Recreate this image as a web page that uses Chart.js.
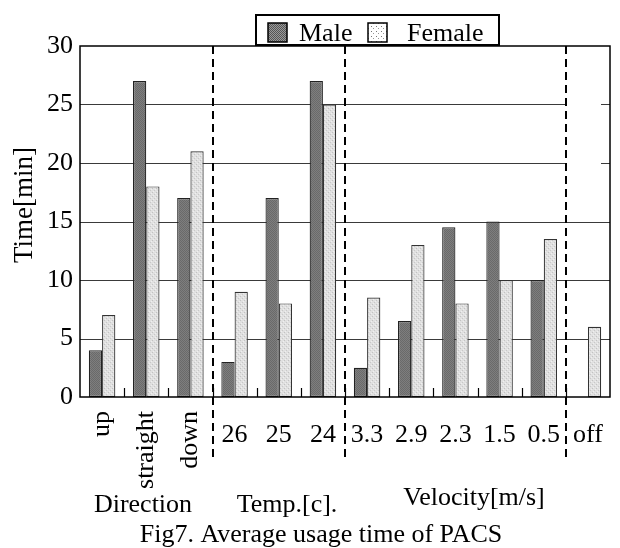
<!DOCTYPE html>
<html><head><meta charset="utf-8">
<script src="https://cdn.jsdelivr.net/npm/chart.js@4/dist/chart.umd.min.js"></script>
<style>html,body{margin:0;padding:0;background:#fff;}#wrap{width:620px;height:548px;position:relative;background:#fff}</style>
</head><body><div id="wrap"><canvas id="c" width="620" height="548"></canvas></div>
<script>
// ---- data ----
const categories = ['up','straight','down','26','25','24','3.3','2.9','2.3','1.5','0.5','off'];
const maleValues = [4, 27, 17, 3, 17, 27, 2.5, 6.5, 14.5, 15, 10, 0];
const femaleValues = [7, 18, 21, 9, 8, 25, 8.5, 13, 8, 10, 13.5, 6];
const seriesNames = ['Male', 'Female'];
const yTicks = [0, 5, 10, 15, 20, 25, 30];
const rotatedLabels = ['up', 'straight', 'down'];
const separatorsAfter = [2, 5, 10];
const groupNames = ['Direction', 'Temp.[c].', 'Velocity[m/s]'];
const yTitle = 'Time[min]';
const caption = 'Fig7. Average usage time of PACS';

const FONT = "'Liberation Serif', 'DejaVu Serif', serif";

function makePattern(w, h, base, dots) {
  const c = document.createElement('canvas');
  c.width = w; c.height = h;
  const g = c.getContext('2d');
  g.fillStyle = base; g.fillRect(0, 0, w, h);
  dots.forEach(d => { g.fillStyle = d[2]; g.fillRect(d[0], d[1], 1, 1); });
  return g.createPattern(c, 'repeat');
}
const ctx0 = document.getElementById('c').getContext('2d');
const malePattern = makePattern(2, 2, '#7e7e7e', [[0,0,'#6a6a6a'],[1,1,'#6a6a6a']]);
const femalePattern = makePattern(4, 4, '#e0e0e0', [[0,0,'#c2c2c2'],[2,2,'#c8c8c8'],[1,3,'#efefef'],[3,1,'#efefef']]);
const maleSwatch = makePattern(2, 2, '#9a9a9a', [[0,0,'#555'],[1,1,'#555']]);
const femaleSwatch = makePattern(5, 5, '#ffffff', [[1,1,'#777'],[3,3,'#999']]);

const decor = {
  id: 'decor',
  beforeDatasetsDraw(chart) {
    const {ctx, chartArea: a, scales: {x, y}} = chart;
    ctx.save();
    // grid lines
    ctx.strokeStyle = '#3a3a3a'; ctx.lineWidth = 1;
    const xGapStart = x.getPixelForValue(separatorsAfter[2] + 0.5);
    yTicks.forEach(v => {
      if (v === yTicks[0] || v === yTicks[yTicks.length - 1]) return;
      const py = Math.round(y.getPixelForValue(v)) + 0.5;
      ctx.beginPath();
      if (v >= 20) {
        ctx.moveTo(a.left, py); ctx.lineTo(xGapStart, py);
        ctx.moveTo(a.right - 9, py); ctx.lineTo(a.right, py);
      } else {
        ctx.moveTo(a.left, py); ctx.lineTo(a.right, py);
      }
      ctx.stroke();
    });
    // bottom ticks at category boundaries
    ctx.strokeStyle = '#000'; ctx.lineWidth = 1.2;
    for (let i = 0; i < categories.length - 1; i++) {
      const px = Math.round(x.getPixelForValue(i + 0.5)) + 0.5;
      ctx.beginPath(); ctx.moveTo(px, a.bottom); ctx.lineTo(px, a.bottom - 9); ctx.stroke();
    }
    ctx.restore();
  },
  afterDatasetsDraw(chart) {
    const {ctx, chartArea: a, scales: {x, y}} = chart;
    ctx.save();
    // dashed separators
    ctx.strokeStyle = '#000'; ctx.lineWidth = 2; ctx.setLineDash([8, 5]);
    separatorsAfter.forEach(i => {
      const px = Math.round(x.getPixelForValue(i + 0.5));
      ctx.beginPath(); ctx.moveTo(px, a.top); ctx.lineTo(px, 457); ctx.stroke();
    });
    ctx.setLineDash([]);
    // plot border
    ctx.lineWidth = 1.5; ctx.strokeStyle = '#000';
    ctx.strokeRect(a.left, a.top, a.right - a.left, a.bottom - a.top);
    // x labels
    ctx.fillStyle = '#000';
    ctx.font = '26px ' + FONT;
    categories.forEach((lab, i) => {
      const px = x.getPixelForValue(i);
      if (rotatedLabels.includes(lab)) {
        ctx.save();
        ctx.translate(px, 411);
        ctx.rotate(-Math.PI / 2);
        ctx.textAlign = 'right'; ctx.textBaseline = 'middle';
        ctx.fillText(lab, 0, 0);
        ctx.restore();
      } else {
        ctx.textAlign = 'center'; ctx.textBaseline = 'middle';
        ctx.fillText(lab, px, 435);
      }
    });
    // group labels
    ctx.textAlign = 'center'; ctx.textBaseline = 'alphabetic';
    ctx.fillText(groupNames[0], 143, 512);
    ctx.fillText(groupNames[1], 287, 512);
    ctx.fillText(groupNames[2], 474, 505);
    // caption
    ctx.fillText(caption, 321, 542);
    // y title
    ctx.save();
    ctx.translate(25, 205);
    ctx.rotate(-Math.PI / 2);
    ctx.textAlign = 'center'; ctx.textBaseline = 'middle';
    ctx.font = '27px ' + FONT;
    ctx.fillText(yTitle, 0, 0);
    ctx.restore();
    // legend
    ctx.fillStyle = '#fff';
    ctx.fillRect(256, 15, 243, 30);
    ctx.lineWidth = 2; ctx.strokeStyle = '#000';
    ctx.strokeRect(256, 15, 243, 30);
    ctx.fillStyle = maleSwatch; ctx.fillRect(268, 23, 19, 19);
    ctx.lineWidth = 1.5; ctx.strokeRect(268, 23, 19, 19);
    ctx.fillStyle = femaleSwatch; ctx.fillRect(368, 23, 19, 19);
    ctx.strokeRect(368, 23, 19, 19);
    ctx.fillStyle = '#000'; ctx.font = '26px ' + FONT;
    ctx.textAlign = 'left'; ctx.textBaseline = 'alphabetic';
    ctx.fillText(seriesNames[0], 299, 41);
    ctx.fillText(seriesNames[1], 407, 41);
    ctx.restore();
  }
};

new Chart(document.getElementById('c'), {
  type: 'bar',
  data: {
    labels: categories,
    datasets: [
      { label: seriesNames[0], data: maleValues, backgroundColor: malePattern, borderColor: '#222', borderWidth: 1.2, borderSkipped: false },
      { label: seriesNames[1], data: femaleValues, backgroundColor: femalePattern, borderColor: '#333', borderWidth: 1.2, borderSkipped: false }
    ]
  },
  options: {
    responsive: false,
    animation: false,
    devicePixelRatio: 1,
    layout: { padding: { left: 0, right: 10, top: 46, bottom: 0 } },
    plugins: { legend: { display: false }, tooltip: { enabled: false }, title: { display: false } },
    datasets: { bar: { categoryPercentage: 0.6, barPercentage: 1.0 } },
    scales: {
      x: {
        type: 'category', offset: true,
        grid: { display: false, drawTicks: false },
        border: { display: false },
        ticks: { display: false },
        afterFit(s) { s.height = 151; }
      },
      y: {
        min: 0, max: 30,
        grid: { display: false, drawTicks: false },
        border: { display: false },
        afterBuildTicks(s) { s.ticks = yTicks.map(v => ({ value: v })); },
        ticks: { color: '#000', padding: 7, font: { family: FONT, size: 26 } },
        afterFit(s) { s.width = 80; }
      }
    }
  },
  plugins: [decor]
});
</script>
</body></html>
